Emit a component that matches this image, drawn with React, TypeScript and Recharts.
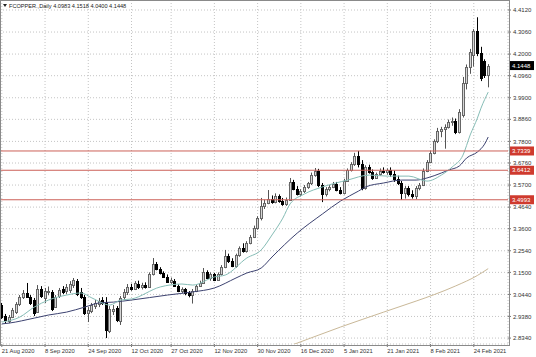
import React from 'react';
import {
  ComposedChart,
  Bar,
  Line,
  XAxis,
  YAxis,
  CartesianGrid,
  ReferenceLine,
} from 'recharts';

const FONT = '"Liberation Sans", Arial, sans-serif';

// one trading day per bar
const DATES = [
  '21 Aug 2020', '24 Aug 2020', '25 Aug 2020', '26 Aug 2020', '27 Aug 2020', '28 Aug 2020', '31 Aug 2020',
  '1 Sep 2020', '2 Sep 2020', '3 Sep 2020', '4 Sep 2020', '7 Sep 2020', '8 Sep 2020', '9 Sep 2020', '10 Sep 2020',
  '11 Sep 2020', '14 Sep 2020', '15 Sep 2020', '16 Sep 2020', '17 Sep 2020', '18 Sep 2020', '21 Sep 2020',
  '22 Sep 2020', '23 Sep 2020', '24 Sep 2020', '25 Sep 2020', '28 Sep 2020', '29 Sep 2020', '30 Sep 2020',
  '1 Oct 2020', '2 Oct 2020', '5 Oct 2020', '6 Oct 2020', '7 Oct 2020', '8 Oct 2020', '9 Oct 2020', '12 Oct 2020',
  '13 Oct 2020', '14 Oct 2020', '15 Oct 2020', '16 Oct 2020', '19 Oct 2020', '20 Oct 2020', '21 Oct 2020',
  '22 Oct 2020', '23 Oct 2020', '26 Oct 2020', '27 Oct 2020', '28 Oct 2020', '29 Oct 2020', '30 Oct 2020',
  '2 Nov 2020', '3 Nov 2020', '4 Nov 2020', '5 Nov 2020', '6 Nov 2020', '9 Nov 2020', '10 Nov 2020', '11 Nov 2020',
  '12 Nov 2020', '13 Nov 2020', '16 Nov 2020', '17 Nov 2020', '18 Nov 2020', '19 Nov 2020', '20 Nov 2020',
  '23 Nov 2020', '24 Nov 2020', '25 Nov 2020', '26 Nov 2020', '27 Nov 2020', '30 Nov 2020',
  '1 Dec 2020', '2 Dec 2020', '3 Dec 2020', '4 Dec 2020', '7 Dec 2020', '8 Dec 2020', '9 Dec 2020', '10 Dec 2020',
  '11 Dec 2020', '14 Dec 2020', '15 Dec 2020', '16 Dec 2020', '17 Dec 2020', '18 Dec 2020', '21 Dec 2020',
  '22 Dec 2020', '23 Dec 2020', '24 Dec 2020', '28 Dec 2020', '29 Dec 2020', '30 Dec 2020', '31 Dec 2020',
  '4 Jan 2021', '5 Jan 2021', '6 Jan 2021', '7 Jan 2021', '8 Jan 2021', '11 Jan 2021', '12 Jan 2021', '13 Jan 2021',
  '14 Jan 2021', '15 Jan 2021', '18 Jan 2021', '19 Jan 2021', '20 Jan 2021', '21 Jan 2021', '22 Jan 2021',
  '25 Jan 2021', '26 Jan 2021', '27 Jan 2021', '28 Jan 2021', '29 Jan 2021',
  '1 Feb 2021', '2 Feb 2021', '3 Feb 2021', '4 Feb 2021', '5 Feb 2021', '8 Feb 2021', '9 Feb 2021', '10 Feb 2021',
  '11 Feb 2021', '12 Feb 2021', '15 Feb 2021', '16 Feb 2021', '17 Feb 2021', '18 Feb 2021', '19 Feb 2021',
  '22 Feb 2021', '23 Feb 2021', '24 Feb 2021', '25 Feb 2021', '26 Feb 2021',
  '1 Mar 2021', '2 Mar 2021',
];

// [open, high, low, close]
const OHLC: [number, number, number, number][] = [
  [2.993, 3.003, 2.926, 2.935], [2.940, 2.950, 2.906, 2.921], [2.916, 2.945, 2.906, 2.935], [2.935, 2.979, 2.930, 2.969],
  [2.959, 3.007, 2.950, 2.998], [2.998, 3.041, 2.988, 3.031], [3.031, 3.065, 3.022, 3.051], [3.051, 3.099, 3.027, 3.031],
  [3.031, 3.041, 2.993, 3.003], [3.017, 3.027, 2.940, 2.954], [2.960, 3.089, 2.955, 3.070], [3.070, 3.084, 3.027, 3.036],
  [3.027, 3.075, 3.003, 3.060], [3.055, 3.082, 3.040, 3.062], [3.056, 3.065, 2.964, 2.974], [2.985, 3.041, 2.980, 3.031],
  [3.036, 3.075, 3.027, 3.065], [3.070, 3.084, 3.046, 3.056], [3.060, 3.094, 3.046, 3.080], [3.065, 3.108, 3.051, 3.094],
  [3.090, 3.123, 3.075, 3.113], [3.108, 3.118, 3.036, 3.046], [3.056, 3.075, 3.022, 3.031], [3.031, 3.041, 2.945, 2.954],
  [2.954, 2.983, 2.911, 2.969], [2.964, 3.003, 2.954, 2.993], [2.988, 3.017, 2.974, 3.003], [2.998, 3.027, 2.983, 3.012],
  [3.017, 3.031, 2.993, 3.003], [3.008, 3.031, 2.834, 2.873], [2.868, 2.988, 2.858, 2.974], [2.962, 2.993, 2.945, 2.976],
  [2.979, 2.988, 2.911, 2.921], [2.916, 3.036, 2.897, 3.027], [3.031, 3.070, 3.017, 3.056], [3.056, 3.094, 3.041, 3.080],
  [3.078, 3.095, 3.062, 3.072], [3.072, 3.108, 3.065, 3.098], [3.096, 3.110, 3.070, 3.080], [3.080, 3.100, 3.068, 3.090],
  [3.090, 3.102, 3.072, 3.078], [3.078, 3.150, 3.075, 3.140], [3.140, 3.219, 3.135, 3.190], [3.190, 3.200, 3.160, 3.168],
  [3.168, 3.175, 3.140, 3.145], [3.145, 3.155, 3.125, 3.130], [3.130, 3.140, 3.100, 3.105], [3.105, 3.125, 3.095, 3.112],
  [3.110, 3.118, 3.080, 3.085], [3.085, 3.092, 3.055, 3.060], [3.060, 3.078, 3.050, 3.068], [3.068, 3.075, 3.040, 3.050],
  [3.050, 3.060, 3.030, 3.040], [3.040, 3.070, 3.000, 3.062], [3.062, 3.092, 3.055, 3.085], [3.085, 3.110, 3.080, 3.100],
  [3.100, 3.171, 3.095, 3.150], [3.150, 3.160, 3.118, 3.125], [3.125, 3.150, 3.110, 3.140], [3.140, 3.148, 3.108, 3.115],
  [3.115, 3.150, 3.110, 3.142], [3.142, 3.185, 3.135, 3.178], [3.178, 3.258, 3.170, 3.230], [3.230, 3.240, 3.195, 3.205],
  [3.205, 3.218, 3.175, 3.180], [3.180, 3.240, 3.172, 3.232], [3.232, 3.275, 3.225, 3.265], [3.265, 3.290, 3.245, 3.252],
  [3.252, 3.300, 3.245, 3.292], [3.292, 3.330, 3.285, 3.322], [3.322, 3.375, 3.315, 3.365], [3.365, 3.420, 3.355, 3.410],
  [3.410, 3.508, 3.400, 3.470], [3.470, 3.500, 3.455, 3.485], [3.485, 3.546, 3.478, 3.505], [3.505, 3.520, 3.480, 3.490],
  [3.490, 3.530, 3.482, 3.515], [3.515, 3.525, 3.485, 3.495], [3.495, 3.508, 3.470, 3.480], [3.480, 3.510, 3.470, 3.500],
  [3.500, 3.604, 3.495, 3.585], [3.585, 3.595, 3.545, 3.552], [3.552, 3.565, 3.520, 3.528], [3.528, 3.550, 3.515, 3.540],
  [3.540, 3.570, 3.532, 3.562], [3.562, 3.585, 3.552, 3.578], [3.578, 3.630, 3.570, 3.618], [3.618, 3.652, 3.610, 3.640],
  [3.640, 3.648, 3.560, 3.570], [3.570, 3.580, 3.488, 3.525], [3.525, 3.560, 3.515, 3.550], [3.550, 3.570, 3.540, 3.562],
  [3.562, 3.585, 3.555, 3.575], [3.575, 3.585, 3.540, 3.548], [3.548, 3.560, 3.525, 3.532], [3.532, 3.600, 3.525, 3.590],
  [3.590, 3.650, 3.585, 3.642], [3.642, 3.680, 3.635, 3.670], [3.670, 3.725, 3.662, 3.712], [3.712, 3.7339, 3.655, 3.670],
  [3.670, 3.690, 3.545, 3.555], [3.555, 3.665, 3.548, 3.655], [3.655, 3.668, 3.625, 3.632], [3.632, 3.645, 3.595, 3.605],
  [3.605, 3.630, 3.600, 3.622], [3.622, 3.650, 3.615, 3.640], [3.640, 3.655, 3.625, 3.632], [3.632, 3.650, 3.620, 3.642],
  [3.642, 3.655, 3.610, 3.622], [3.622, 3.640, 3.585, 3.600], [3.600, 3.615, 3.570, 3.578], [3.578, 3.590, 3.4993, 3.530],
  [3.530, 3.565, 3.505, 3.555], [3.555, 3.565, 3.515, 3.525], [3.525, 3.545, 3.505, 3.518], [3.518, 3.565, 3.502, 3.558],
  [3.558, 3.580, 3.545, 3.572], [3.572, 3.650, 3.565, 3.640], [3.640, 3.690, 3.632, 3.682], [3.682, 3.735, 3.675, 3.725],
  [3.725, 3.790, 3.718, 3.780], [3.780, 3.845, 3.772, 3.828], [3.828, 3.850, 3.800, 3.842], [3.842, 3.862, 3.745, 3.850],
  [3.850, 3.885, 3.842, 3.872], [3.872, 3.895, 3.855, 3.880], [3.880, 3.890, 3.815, 3.825], [3.825, 3.935, 3.818, 3.920],
  [3.905, 4.090, 3.895, 4.060], [4.060, 4.150, 4.030, 4.140], [4.140, 4.225, 4.105, 4.210], [4.195, 4.320, 4.140, 4.310],
  [4.310, 4.377, 4.190, 4.205], [4.205, 4.235, 4.070, 4.085], [4.165, 4.175, 4.085, 4.100], [4.0983, 4.1518, 4.0400, 4.1448],
];

// moving averages: [bar index, value]
const FAST_MA: [number, number][] = [
  [0, 2.911], [5, 2.935], [9, 2.983], [13, 3.017], [18, 3.041], [22, 3.051], [25, 3.027], [30, 2.993],
  [33, 3.017], [36, 3.022], [44, 3.08], [50, 3.094], [53, 3.089], [59, 3.128], [62, 3.137], [68, 3.219],
  [72, 3.258], [75, 3.33], [78, 3.411], [80, 3.479], [84, 3.527], [89, 3.561], [96, 3.594], [102, 3.618],
  [107, 3.613], [113, 3.613], [118, 3.589], [122, 3.618], [125, 3.657], [128, 3.714], [130, 3.811],
  [132, 3.892], [133, 3.94], [135, 4.017],
];
const SLOW_MA: [number, number][] = [
  [0, 2.902], [2, 2.906], [9, 2.93], [13, 2.945], [18, 2.959], [23, 2.983], [27, 3.003], [31, 3.007],
  [36, 3.017], [46, 3.041], [53, 3.056], [59, 3.075], [65, 3.123], [68, 3.147], [72, 3.171], [75, 3.224],
  [82, 3.339], [89, 3.431], [94, 3.493], [99, 3.541], [101, 3.561], [106, 3.58], [111, 3.594], [115, 3.594],
  [118, 3.604], [122, 3.628], [124, 3.642], [127, 3.662], [129, 3.7], [132, 3.729], [134, 3.767], [135, 3.801],
];
const LONG_MA: [number, number][] = [
  [78, 2.785], [82, 2.81], [94, 2.887], [106, 2.959], [115, 3.012], [120, 3.043], [126, 3.085],
  [132, 3.135], [135, 3.168],
];

const LEVELS = [3.7339, 3.6412, 3.4993];
const LAST_PRICE = 4.1448;
const TITLE = 'FCOPPER.,Daily  4.0983 4.1518 4.0400 4.1448';

const PRICE_TICKS = [
  2.834, 2.938, 3.044, 3.15, 3.254, 3.36, 3.464, 3.57, 3.676, 3.78, 3.886, 3.99, 4.096, 4.2, 4.306, 4.412,
];
const DATE_TICKS = [
  '21 Aug 2020', '8 Sep 2020', '24 Sep 2020', '12 Oct 2020', '27 Oct 2020', '12 Nov 2020',
  '30 Nov 2020', '16 Dec 2020', '5 Jan 2021', '21 Jan 2021', '8 Feb 2021', '24 Feb 2021',
];

const pick = (pts: [number, number][]) => {
  const m = new Map(pts);
  return (i: number) => (m.has(i) ? m.get(i) : null);
};
const fast = pick(FAST_MA);
const slow = pick(SLOW_MA);
const long = pick(LONG_MA);

const data = DATES.map((date, i) => {
  const [open, high, low, close] = OHLC[i];
  return { date, open, high, low, close, range: [low, high], fast: fast(i), slow: slow(i), long: long(i) };
});

const Candle = (props: any) => {
  const { x, y, width, height } = props;
  const p = props.payload || props;
  const { open, high, low, close } = p;
  if (height == null || isNaN(height)) return null;
  const toY = (v: number) => y + ((high - v) / (high - low)) * height;
  const cx = Math.floor(x + width / 2) + 0.5;
  const up = close >= open;
  const top = Math.round(toY(Math.max(open, close)));
  const bot = Math.round(toY(Math.min(open, close)));
  return (
    <g>
      <line x1={cx} x2={cx} y1={y} y2={y + height} stroke={up ? '#555' : '#000'} strokeWidth={1} />
      <rect
        x={cx - 1}
        y={top + 0.5}
        width={2}
        height={Math.max(1, bot - top)}
        fill={up ? '#d6d6d6' : '#000'}
        stroke={up ? '#666' : '#000'}
        strokeWidth={1}
      />
    </g>
  );
};

const DateTick = ({ x, y, payload }: any) => (
  <text x={x} y={y} dy={5} fontSize={5.8} fill="#333" fontFamily={FONT}>
    {payload.value}
  </text>
);

const PriceTag = ({ viewBox, value, bg }: any) => {
  const right = viewBox.x + viewBox.width;
  const y = viewBox.y;
  return (
    <g>
      <rect x={right + 1} y={y - 4.5} width={25} height={9} fill={bg} />
      <text x={right + 4} y={y} dy="0.35em" fontSize={6} fill="#fff" fontFamily={FONT}>
        {value.toFixed(4)}
      </text>
    </g>
  );
};

export default function App() {
  return (
    <div style={{ position: 'absolute', left: 0, top: 0, width: 536, height: 357, background: '#fff' }}>
      <ComposedChart width={536} height={357} data={data} margin={{ top: 0, right: 0, bottom: 0, left: 0 }}>
        <CartesianGrid stroke="#c4c4c4" strokeDasharray="1 2" />
        <XAxis
          dataKey="date"
          ticks={DATE_TICKS}
          interval={0}
          padding={{ left: 0, right: 18 }}
          height={13}
          axisLine={false}
          tickSize={3}
          tickMargin={1}
          tickLine={{ stroke: '#777' }}
          tick={<DateTick />}
        />
        <YAxis
          orientation="right"
          width={28}
          domain={[2.8055, 4.4601]}
          allowDataOverflow
          ticks={PRICE_TICKS}
          interval={0}
          axisLine={false}
          tickSize={3}
          tickMargin={2}
          tickLine={{ stroke: '#777' }}
          tickFormatter={(v: number) => v.toFixed(4)}
          tick={{ fontSize: 6, fill: '#333', fontFamily: FONT }}
        />
        <Bar dataKey="range" shape={<Candle />} isAnimationActive={false} />
        <Line dataKey="long" type="monotone" stroke="#c9b898" strokeWidth={1} dot={false} connectNulls isAnimationActive={false} />
        <Line dataKey="slow" type="monotone" stroke="#3c4270" strokeWidth={1} dot={false} connectNulls isAnimationActive={false} />
        <Line dataKey="fast" type="monotone" stroke="#86bdb6" strokeWidth={1} dot={false} connectNulls isAnimationActive={false} />
        {LEVELS.map((v) => (
          <ReferenceLine
            key={v}
            y={v}
            stroke="#cc6058"
            strokeWidth={1}
            label={(p: any) => <PriceTag {...p} value={v} bg="#cf3a2e" />}
          />
        ))}
        <ReferenceLine
          y={LAST_PRICE}
          strokeOpacity={0}
          label={(p: any) => <PriceTag {...p} value={LAST_PRICE} bg="#000" />}
        />
      </ComposedChart>
      <div
        style={{
          position: 'absolute', left: 0, top: 0, width: 508, height: 344,
          border: '1px solid #8a8a8a', pointerEvents: 'none',
        }}
      />
      <svg style={{ position: 'absolute', left: 0, top: 0 }} width={200} height={12}>
        <polygon points="3,4 7,4 5,7" fill="#222" />
        <text x={9} y={8} fontSize={5.6} fill="#222" fontFamily={FONT}>
          {TITLE}
        </text>
      </svg>
    </div>
  );
}
